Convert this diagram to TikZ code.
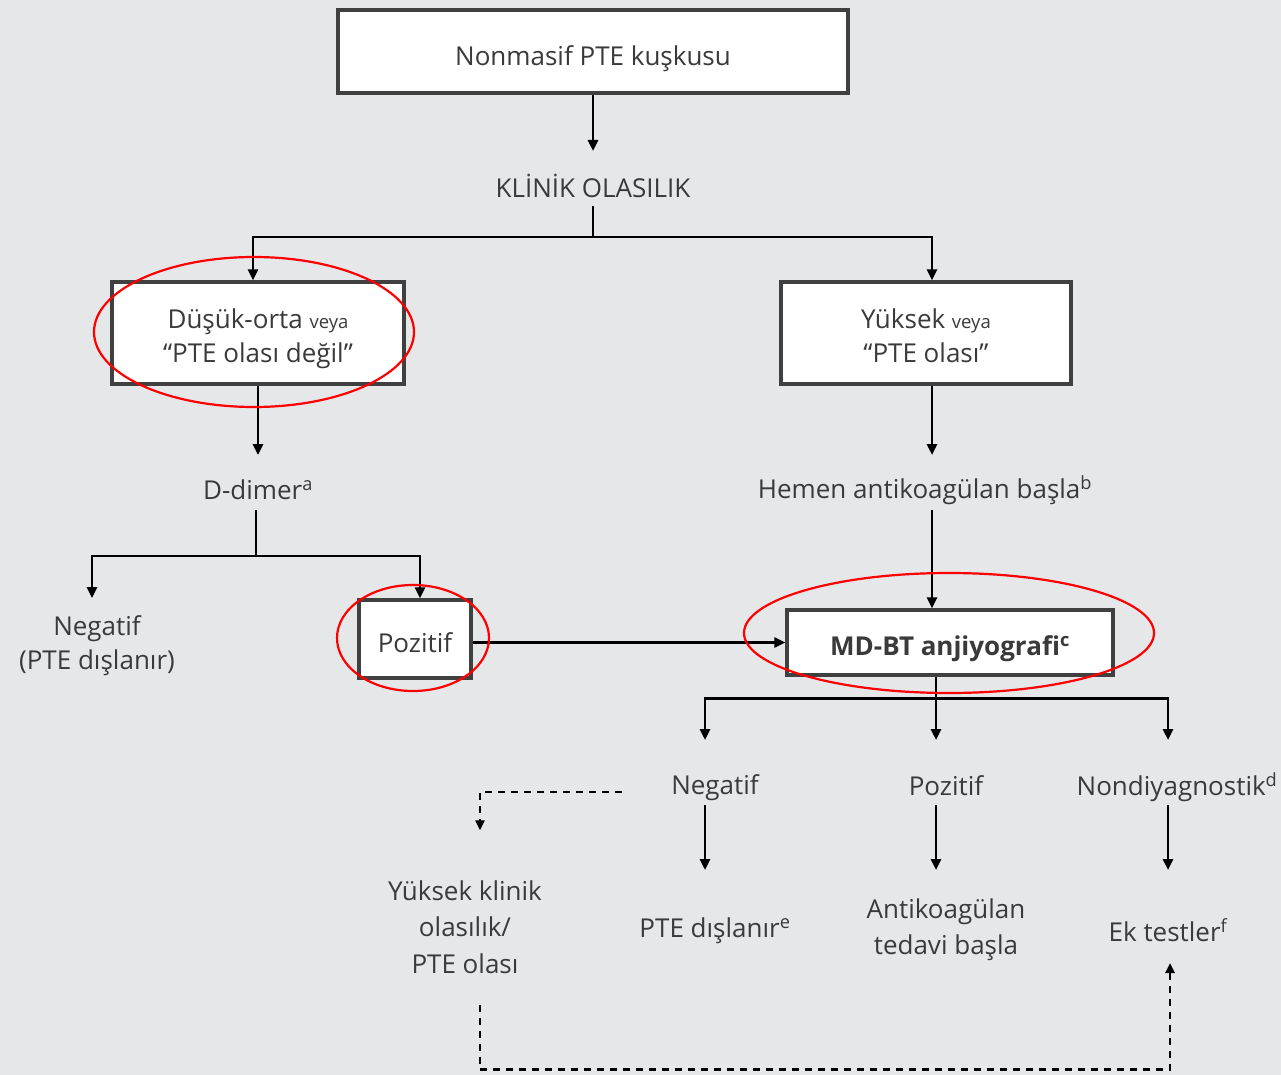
\documentclass[tikz,border=0pt]{standalone}
\usepackage{fontspec}
\setmainfont{Open Sans}
\usetikzlibrary{arrows.meta,calc}
\definecolor{bg}{HTML}{E6E7E9}
\definecolor{txt}{HTML}{3A3A3A}
\definecolor{boxline}{HTML}{404040}
\newcommand{\smallveya}{{\fontsize{18.5}{20}\selectfont veya}}
\newcommand{\lowr}[2]{\raisebox{-#1}[\height][\depth]{#2}}
\begin{document}
\begin{tikzpicture}[x=1pt,y=-1pt,
  font=\fontsize{26}{34}\selectfont, text=txt,
  box/.style={draw=boxline, line width=3.2pt, fill=white, inner sep=0pt, align=center},
  lbl/.style={inner sep=0pt, align=center},
  conn/.style={line width=2.6pt, draw=black},
  arr/.style={conn, -{Triangle[length=11pt,width=10pt]}},
  dline/.style={line width=2.6pt, draw=black, dash pattern=on 7pt off 6pt},
  darr/.style={dline, -{Triangle[length=10pt,width=9pt]}},
  redell/.style={draw=red, line width=2.2pt}]
\useasboundingbox[fill=bg] (0,0) rectangle (1281,1075);

% boxes and texts
\node[box, minimum width=510, minimum height=83] (box1) at (593,51.5)
  {\lowr{7pt}{Nonmasif PTE kuşkusu}};
\node[lbl] (klinik) at (593,186) {KLİNİK OLASILIK};
\node[box, minimum width=292, minimum height=102] (box2) at (258,333)
  {\lowr{6pt}{Düşük-orta \smallveya}\\\lowr{6pt}{``PTE olası değil''}};
\node[box, minimum width=290, minimum height=102] (box3) at (926,333)
  {\lowr{3pt}{Yüksek \smallveya}\\\lowr{3pt}{``PTE olası''}};
\node[lbl] (ddimer) at (258,490) {D-dimer\textsuperscript{a}};
\node[lbl] (hemen) at (925,490) {Hemen antikoagülan başla\textsuperscript{b}};
\node[lbl] (neg1) at (97,646) {Negatif\\(PTE dışlanır)};
\node[box, minimum width=112, minimum height=78] (pozbox) at (415,639) {\lowr{4pt}{Pozitif}};
\node[box, minimum width=326, minimum height=65, font=\fontsize{26}{34}\selectfont\bfseries] (mdbox) at (950,642.5)
  {\lowr{6pt}{MD-BT anjiyografi\textsuperscript{c}}};
\node[lbl] (neg2) at (715,788) {Negatif};
\node[lbl] (poz2) at (946,786) {Pozitif};
\node[lbl] (nondiag) at (1177,787) {Nondiyagnostik\textsuperscript{d}};
\node[lbl] (ptedis) at (715,931) {PTE dışlanır\textsuperscript{e}};
\node[lbl, font=\fontsize{26}{36}\selectfont] (antik) at (946,930) {Antikoagülan\\tedavi başla};
\node[lbl] (ektest) at (1168,930) {Ek testler\textsuperscript{f}};
\node[lbl, font=\fontsize{26}{36.5}\selectfont] (yuksek) at (465,927) {Yüksek klinik\\olasılık/\\PTE olası};

% connectors
\draw[arr] (box1.south) -- ($(klinik.center)+(0,-35)$);
\coordinate (j1) at ($(klinik.center)+(0,51)$);
\draw[conn] ($(klinik.center)+(0,20)$) -- (j1);
\draw[arr] (j1) -| ([xshift=-5pt]box2.north);
\draw[arr] (j1) -| ([xshift=6pt]box3.north);

\coordinate (dd1) at ($(ddimer.center)+(0,-35)$);
\draw[arr] (box2.south) -- (box2.south |- dd1);
\coordinate (j2) at ($(ddimer.center)+(-2,66)$);
\draw[conn] ($(ddimer.center)+(-2,20)$) -- (j2);
\draw[arr] (j2) -| ($(neg1.center)+(-5,-48)$);
\draw[arr] (j2) -| ([xshift=5pt]pozbox.north);
\draw[arr] (pozbox.east |- mdbox.west) -- (mdbox.west);

\draw[arr] ([xshift=6pt]box3.south) -- ($(hemen.center)+(7,-35)$);
\coordinate (h2) at ($(hemen.center)+(7,20)$);
\draw[arr] (h2) -- (h2 |- mdbox.north);

\coordinate (m1) at ([xshift=-14pt]mdbox.south);
\coordinate (j3) at ($(m1)+(0,22)$);
\draw[conn] (m1) -- (j3);
\draw[arr] (j3) -| ($(neg2.center)+(-10,-48)$);
\draw[arr] (j3) -- ($(poz2.center)+(-10,-46)$);
\draw[arr] (j3) -| ($(nondiag.center)+(-9,-47)$);

\draw[arr] ($(neg2.center)+(-10,17)$) -- ($(ptedis.center)+(-10,-61)$);
\draw[arr] ($(poz2.center)+(-10,19)$) -- ($(antik.center)+(-10,-60)$);
\draw[arr] ($(nondiag.center)+(-9,18)$) -- ($(ektest.center)+(0,-60)$);

% dashed connectors
\coordinate (d1) at ($(neg2.center)+(-93,4)$);
\draw[darr] (d1) -| ($(yuksek.north)+(15,-50)$);
\coordinate (d2) at ($(yuksek.south)+(15,31)$);
\coordinate (d3) at ($(d2)+(0,65)$);
\draw[dline] (d2) -- (d3);
\draw[darr] (d3) -| ($(ektest.center)+(2,33)$);

% red annotation ellipses
\draw[redell] (254,332) ellipse [x radius=160, y radius=75];
\draw[redell] (413,638) ellipse [x radius=76, y radius=53];
\draw[redell] (949,633) ellipse [x radius=205, y radius=60];
\end{tikzpicture}
\end{document}
